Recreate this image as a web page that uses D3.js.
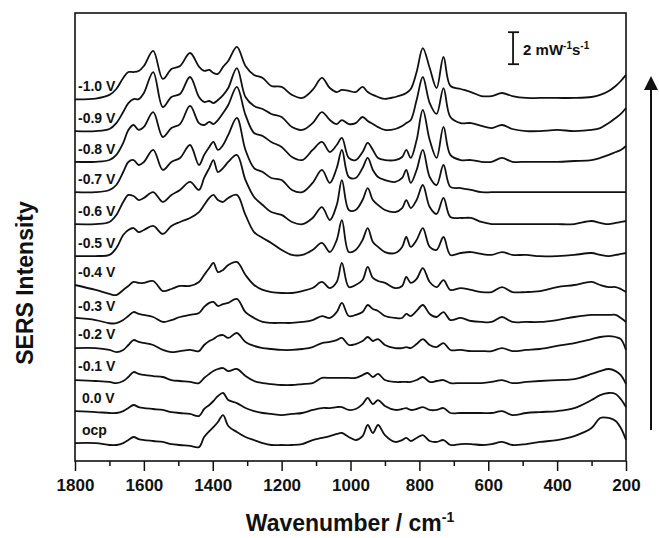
<!DOCTYPE html>
<html>
<head>
<meta charset="utf-8">
<script src="https://cdn.jsdelivr.net/npm/d3@7"></script>
<style>
body { margin: 0; background: #fff; }
text { font-family: "Liberation Sans", Arial, sans-serif; font-weight: bold; fill: #111; }
</style>
</head>
<body>
<script>
// shared wavenumber grid (cm-1), every spectrum is sampled on it
var wavenumbers = [1800,1740,1700,1680,1660,1645,1630,1615,1600,1573,
  1545,1520,1495,1466,1440,1425,1410,1398,1385,1370,
  1355,1330,1305,1280,1255,1230,1200,1170,1140,1110,
  1083,1060,1040,1025,1005,985,965,950,935,920,
  900,870,850,838,825,808,790,770,750,730,
  710,680,650,620,590,560,530,490,450,400,
  350,300,275,250,230,215,200];

// intensities above each trace's own baseline (mW-1 s-1)
var specM10 = [0,0.05,0.28,0.65,1.34,1.71,1.71,1.78,2.09,3.03,
  1.28,1.90,2.09,2.90,2.05,1.78,1.84,1.65,1.59,2.03,
  2.40,3.28,2.09,1.53,1.34,0.84,0.78,0.28,0.09,0.59,
  1.34,0.71,0.46,0.59,0.53,0.46,0.78,0.46,0.28,0.15,
  0.03,0.15,0.28,0.40,0.65,1.71,3.21,1.96,0.71,2.65,
  0.84,0.65,0.46,0.21,0.21,0.40,0.21,0.09,0.09,0.09,
  0.09,0.15,0.28,0.53,0.84,1.15,1.53];
var specM09 = [0.02,0.02,0.15,0.52,1.21,1.77,2.02,2.02,2.40,3.71,
  1.52,2.15,2.34,3.40,2.15,1.84,1.90,1.77,1.96,2.27,
  2.71,3.96,2.15,1.59,1.40,1.09,0.90,0.27,0.09,0.52,
  1.21,0.71,0.46,0.71,0.46,0.52,0.90,0.65,0.46,0.27,
  0.09,0.15,0.34,0.52,0.71,1.96,3.40,1.77,1.09,2.71,
  0.90,0.52,0.52,0.34,0.21,0.40,0.15,0.02,0.02,0.09,
  0.02,0.09,0.21,0.52,0.84,1.09,1.46];
var specM08 = [0,0,0.11,0.43,1.18,1.99,2.30,1.99,2.18,3.11,
  1.55,2.11,2.36,3.49,2.42,2.30,2.49,2.36,2.61,3.05,
  3.55,4.68,2.93,1.80,1.61,1.24,0.93,0.30,0.11,0.74,
  1.24,0.61,1.05,1.49,0.24,0.11,0.61,1.18,0.74,0.24,
  0.11,0.11,0.30,0.74,0.24,1.36,3.24,1.36,0.24,2.18,
  0.43,0.11,0.11,0,0,0.24,0,0,0,0,
  0.05,0.11,0.24,0.43,0.61,0.74,0.99];
var specM07 = [0,0,0.14,0.45,1.26,1.89,2.01,1.70,1.89,2.64,
  1.39,1.89,2.14,2.95,1.70,2.33,2.83,3.14,2.64,2.95,
  3.58,4.64,2.64,1.51,1.26,0.89,0.76,0.14,0,0.58,
  1.39,0.58,1.51,2.64,0.95,0.89,1.51,2.14,1.39,0.95,
  0.76,0.64,0.89,1.39,0.58,1.39,2.64,0.95,0.45,1.70,
  0.33,0.26,0.14,0,0,0,0,0,0,0,
  0,0,0,0,0,0,0];
var specM06 = [0,0.01,0.14,0.58,1.39,1.83,1.76,1.51,1.64,2.01,
  1.39,1.83,2.14,2.64,2.14,2.89,3.51,4.01,3.26,3.51,
  3.89,4.33,2.76,1.70,1.20,0.76,0.58,0.14,0,0.39,
  1.07,0.26,1.20,2.76,0.89,0.89,1.51,2.26,1.51,1.20,
  0.89,0.76,1.01,1.51,1.01,1.51,2.45,1.07,0.64,1.64,
  0.45,0.39,0.39,0.14,0.01,0.01,0,0,0,0,
  0.01,0.20,0.08,0,0.08,0.14,0.20];
var specM05 = [0.01,0.01,0.08,0.51,1.33,1.64,1.76,1.51,1.64,1.89,
  1.39,1.89,2.14,2.39,2.76,3.20,3.64,3.83,3.51,3.39,
  3.64,3.83,2.58,1.51,1.14,0.83,0.39,0.08,0.08,0.39,
  0.83,0.26,1.01,2.26,0.26,0.39,1.01,1.76,0.89,0.58,
  0.26,0.20,0.58,1.20,0.58,1.01,1.76,0.58,0.39,1.20,
  0.08,0.20,0.26,0.14,0.08,0.26,0.08,0.08,0,0.01,
  0.08,0.20,0.08,0.01,0.08,0.14,0.20];
var specM04 = [0,-0.31,-0.56,-0.63,-0.31,-0.06,0.19,0.13,0.13,0.25,
  -0.38,-0.25,-0.06,-0.06,0.19,0.63,1.06,1.38,0.81,0.94,
  1.25,1.44,0.63,0,-0.31,-0.44,-0.5,-0.5,-0.38,-0.19,
  0.19,-0.19,0.19,1.38,-0.13,0,0.31,1.13,0.44,0.25,
  0.13,-0.19,-0.06,0.5,0.13,0.38,1.06,0.19,-0.13,0.31,
  -0.31,-0.19,-0.31,-0.44,-0.44,-0.13,-0.44,-0.44,-0.38,-0.13,
  0,0.19,0,-0.13,-0.13,-0.25,-0.44];
var specM03 = [0.04,-0.09,-0.29,-0.29,-0.09,0.16,0.41,0.29,0.23,0.10,
  -0.21,-0.09,0.10,0.23,0.35,0.73,0.98,1.04,0.79,0.91,
  0.98,1.23,0.41,0.04,-0.21,-0.27,-0.27,-0.27,-0.21,-0.09,
  0.16,0.04,0.41,0.98,0.16,0.23,0.41,0.85,0.60,0.48,
  0.16,0.04,0.04,0.29,0.16,0.48,0.85,0.29,0.10,0.41,
  -0.09,0.04,-0.15,-0.21,-0.21,0.10,-0.21,-0.21,-0.21,-0.09,
  0.10,0.23,0.23,0.23,0.23,0.04,-0.21];
var specM02 = [-0.04,-0.04,-0.16,-0.29,-0.16,0.15,0.46,0.34,0.28,0.15,
  -0.16,-0.29,-0.23,-0.16,-0.23,0.15,0.40,0.52,0.71,0.77,
  0.59,0.90,0.34,0.09,-0.04,-0.10,-0.16,-0.16,-0.10,0.02,
  0.27,0.34,0.46,0.59,0.15,0.21,0.40,0.65,0.40,0.52,
  0.15,-0.04,-0.04,0.02,-0.04,0.21,0.52,0.15,0.02,0.27,
  -0.16,-0.16,-0.23,-0.23,-0.23,-0.04,-0.23,-0.16,-0.10,0.09,
  0.27,0.52,0.65,0.71,0.65,0.52,-0.16];
var specM01 = [-0.04,-0.10,-0.16,-0.23,-0.10,0.15,0.46,0.34,0.28,0.21,
  0.15,-0.04,-0.10,-0.16,-0.23,0.09,0.34,0.52,0.65,0.71,
  0.52,0.65,0.21,-0.10,-0.23,-0.29,-0.35,-0.35,-0.29,-0.23,
  0.09,0.09,0.09,0.09,0.09,0.09,0.27,0.40,0.15,0.34,
  -0.04,-0.16,-0.16,-0.16,-0.16,-0.04,0.15,-0.16,-0.10,-0.04,
  -0.23,-0.23,-0.23,-0.23,-0.16,-0.04,-0.23,-0.16,-0.10,-0.04,
  0.02,0.34,0.52,0.65,0.52,0.27,-0.29];
var spec00 = [0.02,-0.04,-0.10,-0.10,0.02,0.21,0.40,0.27,0.21,0.15,
  0.09,-0.04,-0.10,-0.16,-0.29,0.15,0.40,0.65,0.96,1.15,
  0.71,0.52,0.21,0.02,-0.10,-0.16,-0.23,-0.16,-0.10,0.09,
  0.21,0.21,0.27,0.27,0.09,0.15,0.46,0.84,0.46,0.71,
  0.34,0.09,0.15,0.21,0.09,0.15,0.27,0.09,0.09,0.21,
  -0.10,-0.10,-0.10,-0.10,-0.10,0.02,-0.23,-0.10,-0.04,0.02,
  0.21,0.71,1.02,1.15,1.09,0.77,0.27];
var specOcp = [0.02,0.02,-0.10,-0.10,0.02,0.21,0.40,0.27,0.21,0.15,
  0.09,-0.04,-0.10,-0.16,-0.23,0.40,0.77,1.02,1.34,1.77,
  1.09,0.71,0.40,0.21,0.02,-0.10,-0.10,-0.10,-0.04,0.21,
  0.34,0.46,0.59,0.65,0.40,0.21,0.46,1.15,0.65,1.15,
  0.52,0.09,0.21,0.34,0.15,0.34,0.52,0.15,0.09,0.21,
  -0.10,-0.04,-0.04,-0.10,-0.04,0.09,-0.10,-0.04,0.09,0.21,
  0.46,0.96,1.59,1.59,1.40,0.96,0.21];

var labels = ["-1.0 V","-0.9 V","-0.8 V","-0.7 V","-0.6 V","-0.5 V",
  "-0.4 V","-0.3 V","-0.2 V","-0.1 V","0.0 V","ocp"];
var offsets = [22.6,20.6,18.7,16.8,14.8,12.8,11.0,8.9,7.1,5.1,3.1,1.1];
var spectra = [specM10,specM09,specM08,specM07,specM06,specM05,
  specM04,specM03,specM02,specM01,spec00,specOcp];

var majorTicks = [1800,1600,1400,1200,1000,800,600,400,200];
var minorTicks = [1700,1500,1300,1100,900,700,500,300];

var margin = {top: 13, right: 33, bottom: 77, left: 75}
  , width = 659 - margin.left - margin.right
  , height = 538 - margin.top - margin.bottom;

var x = d3.scaleLinear().domain([1800, 200]).range([0, width]);
var y = d3.scaleLinear().domain([0, 28]).range([height, 0]);

var svg = d3.select('body').append('svg')
  .attr('width', 659)
  .attr('height', 538);

var main = svg.append('g')
  .attr('transform', 'translate(' + margin.left + ',' + margin.top + ')');

// bottom axis, major + minor ticks
var xAxis = d3.axisBottom(x).tickValues(majorTicks).tickSize(10)
  .tickSizeOuter(0).tickPadding(8).tickFormat(d3.format('d'));
var gx = main.append('g')
  .attr('transform', 'translate(0,' + height + ')')
  .call(xAxis);
gx.select('.domain').remove();
gx.selectAll('line').attr('stroke', '#111').attr('stroke-width', 1.5);
gx.selectAll('text').style('font-size', '17px').attr('fill', '#111');

var gm = main.append('g')
  .attr('transform', 'translate(0,' + height + ')')
  .call(d3.axisBottom(x).tickValues(minorTicks).tickSize(5).tickFormat(''));
gm.select('.domain').remove();
gm.selectAll('line').attr('stroke', '#111').attr('stroke-width', 1.5);

// spectra
var line = d3.line()
  .x(function(d) { return x(d[0]); })
  .y(function(d) { return y(d[1]); })
  .curve(d3.curveCatmullRom.alpha(0.5));

spectra.forEach(function(s, i) {
  var pts = wavenumbers.map(function(w, j) { return [w, s[j] + offsets[i]]; });
  main.append('path')
    .attr('d', line(pts))
    .attr('fill', 'none')
    .attr('stroke', '#111')
    .attr('stroke-width', 1.8)
    .attr('stroke-linejoin', 'round');

  main.append('text')
    .attr('x', labels[i][0] == '-' ? 3 : 7)
    .attr('y', y(offsets[i]) - 8)
    .style('font-size', '14px')
    .text(labels[i]);
});

// frame
main.append('rect')
  .attr('width', width).attr('height', height)
  .attr('fill', 'none').attr('stroke', '#111').attr('stroke-width', 1.6);

// scale bar: 2 mW-1 s-1
var sbx = x(528);
main.append('line')
  .attr('x1', sbx).attr('x2', sbx)
  .attr('y1', y(24.8)).attr('y2', y(26.8))
  .attr('stroke', '#111').attr('stroke-width', 1.8);
[24.8, 26.8].forEach(function(v) {
  main.append('line')
    .attr('x1', sbx - 5).attr('x2', sbx + 6)
    .attr('y1', y(v)).attr('y2', y(v))
    .attr('stroke', '#111').attr('stroke-width', 1.8);
});
var sb = main.append('text')
  .attr('x', sbx + 10).attr('y', y(25.4))
  .style('font-size', '15px');
sb.append('tspan').text('2 mW');
sb.append('tspan').attr('dy', -6).style('font-size', '10px').text('-1');
sb.append('tspan').attr('dy', 6).text('s');
sb.append('tspan').attr('dy', -6).style('font-size', '10px').text('-1');

// arrow on the right
svg.append('line')
  .attr('x1', 651).attr('x2', 651).attr('y1', 430).attr('y2', 86)
  .attr('stroke', '#111').attr('stroke-width', 2);
svg.append('path')
  .attr('d', 'M651,76L644,90L658,90Z')
  .attr('fill', '#111');

// axis titles
var xt = svg.append('text')
  .attr('x', 350).attr('y', 531)
  .style('text-anchor', 'middle')
  .style('font-size', '23px');
xt.append('tspan').text('Wavenumber / cm');
xt.append('tspan').attr('dy', -9).style('font-size', '14px').text('-1');

svg.append('text')
  .attr('transform', 'translate(33,283) rotate(-90)')
  .style('text-anchor', 'middle')
  .style('font-size', '23px')
  .text('SERS Intensity');
</script>
</body>
</html>
